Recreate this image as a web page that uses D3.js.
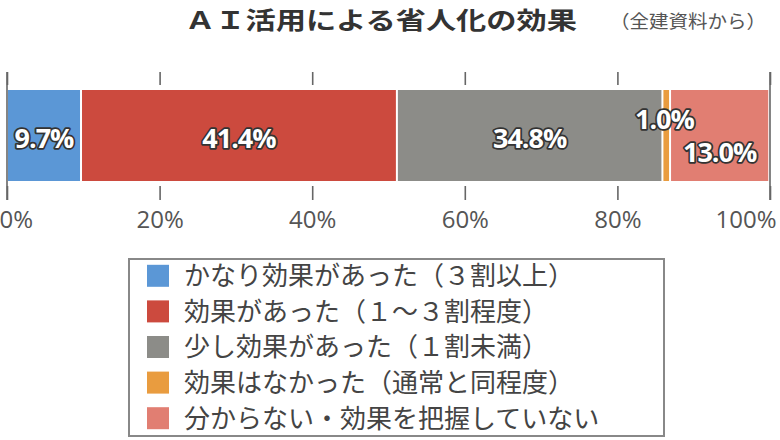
<!DOCTYPE html>
<html>
<head>
<meta charset="utf-8">
<script src="https://cdn.jsdelivr.net/npm/d3@7"></script>
<style>
  body { margin: 0; background: #fff; }
  svg { display: block; font-family: "Noto Sans CJK JP", "Noto Sans", sans-serif; }
</style>
</head>
<body>
<div id="vis-container"></div>
<script>
const categories = [
  "かなり効果があった（３割以上）",
  "効果があった（１～３割程度）",
  "少し効果があった（１割未満）",
  "効果はなかった（通常と同程度）",
  "分からない・効果を把握していない"
];
const values = [9.7, 41.4, 34.8, 1.0, 13.0];
const colors = ["#5b97d6", "#cc4a3e", "#8c8c88", "#e99c3f", "#e17e72"];
const tickValues = [0, 20, 40, 60, 80, 100];

const width = 780, height = 440;

const svg = d3.select("#vis-container")
  .append("svg")
    .attr("width", width)
    .attr("height", height);

// Title
svg.append("text")
  .attr("x", 185)
  .attr("y", 29)
  .attr("textLength", 392)
  .attr("lengthAdjust", "spacingAndGlyphs")
  .style("font-size", "24px")
  .style("font-weight", "bold")
  .style("fill", "#333")
  .text("ＡＩ活用による省人化の効果");

svg.append("text")
  .attr("x", 610)
  .attr("y", 28)
  .attr("textLength", 156)
  .attr("lengthAdjust", "spacingAndGlyphs")
  .style("font-size", "18px")
  .style("fill", "#555")
  .text("（全建資料から）");

const x = d3.scaleLinear().domain([0, 100]).range([7, 770]);
const barTop = 90, barBottom = 181;

// stacked data
let acc = 0;
const stacked = values.map((v, i) => {
  const d = { name: categories[i], value: v, x0: acc, x1: acc + v, color: colors[i] };
  acc += v;
  return d;
});

// Axis ticks (top)
svg.append("g")
  .attr("transform", `translate(0,${barTop - 5})`)
  .call(d3.axisTop(x).tickValues(tickValues).tickSize(13).tickFormat(""))
  .call(g => g.select(".domain").remove())
  .call(g => g.selectAll("line").attr("stroke", "#666").attr("stroke-width", 1.6));

// Axis ticks and labels (bottom)
const bottomAxis = svg.append("g")
  .attr("transform", `translate(0,${barBottom + 5})`)
  .call(d3.axisBottom(x).tickValues(tickValues).tickSize(14).tickPadding(11).tickFormat(d => d + "%"))
  .call(g => g.select(".domain").remove())
  .call(g => g.selectAll("line").attr("stroke", "#666").attr("stroke-width", 1.6));

bottomAxis.selectAll("text")
  .style("font-family", "'Open Sans', 'Noto Sans', sans-serif")
  .style("font-size", "24px")
  .style("fill", "#555")
  .attr("text-anchor", d => d === 0 ? "start" : d === 100 ? "end" : "middle")
  .attr("dx", d => d === 0 ? -8 : d === 100 ? 6 : 0);

// full edge lines at 0% and 100%
svg.append("g").selectAll("line")
  .data([0, 100])
  .join("line")
    .attr("x1", d => x(d))
    .attr("x2", d => x(d))
    .attr("y1", barTop - 18)
    .attr("y2", barBottom + 19)
    .attr("stroke", "#666")
    .attr("stroke-width", 1.6);

// Bars
svg.append("g").selectAll("rect")
  .data(stacked)
  .join("rect")
    .attr("x", d => x(d.x0) + 1)
    .attr("y", barTop)
    .attr("width", d => Math.max(x(d.x1) - x(d.x0) - 2, 1))
    .attr("height", barBottom - barTop)
    .attr("fill", d => d.color);

// Value labels
const labelY = [139, 139, 139, 120, 153];
svg.append("g").selectAll("text")
  .data(stacked)
  .join("text")
    .attr("x", (d, i) => i === 3 ? x(d.x0) + 2 : x((d.x0 + d.x1) / 2))
    .attr("y", (d, i) => labelY[i])
    .attr("dy", "0.35em")
    .attr("text-anchor", "middle")
    .style("font-family", "'Open Sans', 'Noto Sans', sans-serif")
    .style("font-size", "27px")
    .style("font-weight", "bold")
    .style("letter-spacing", "-1px")
    .style("fill", "#fff")
    .style("stroke", "#333")
    .style("stroke-width", 3.5)
    .style("stroke-linejoin", "round")
    .style("paint-order", "stroke")
    .text(d => d.value.toFixed(1) + "%");

// Legend
const legend = svg.append("g");
legend.append("rect")
  .attr("x", 129)
  .attr("y", 259)
  .attr("width", 535)
  .attr("height", 177)
  .attr("fill", "#fff")
  .attr("stroke", "#888")
  .attr("stroke-width", 2);

const rowY = d3.scaleBand().domain(categories).range([258, 436]);
const items = legend.selectAll("g.item")
  .data(categories)
  .join("g")
    .attr("class", "item")
    .attr("transform", d => `translate(0,${rowY(d) + rowY.bandwidth() / 2})`);

items.append("rect")
  .attr("x", 147)
  .attr("y", -11)
  .attr("width", 22)
  .attr("height", 22)
  .attr("fill", (d, i) => colors[i]);

items.append("text")
  .attr("x", 184)
  .attr("dy", "0.36em")
  .style("font-size", "26px")
  .style("fill", "#444")
  .text(d => d);
</script>
</body>
</html>
